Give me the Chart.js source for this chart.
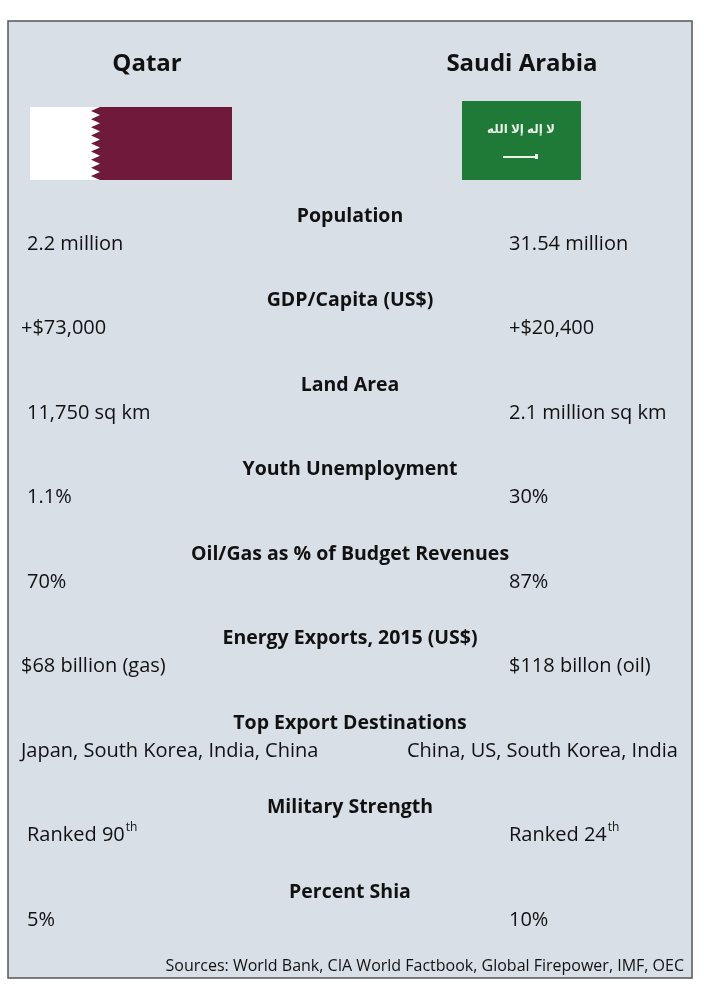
<!DOCTYPE html>
<html><head><meta charset="utf-8">
<script src="https://cdn.jsdelivr.net/npm/chart.js@4"></script>
<style>html,body{margin:0;padding:0;background:#fff}#wrap{width:704px;height:1000px}</style>
</head><body><div id="wrap"><canvas id="c"></canvas></div>
<script>
const countries = ["Qatar", "Saudi Arabia"];
const metrics = ["Population", "GDP/Capita (US$)", "Land Area", "Youth Unemployment",
  "Oil/Gas as % of Budget Revenues", "Energy Exports, 2015 (US$)", "Top Export Destinations",
  "Military Strength", "Percent Shia"];
const qatarValues = ["2.2 million", "+$73,000", "11,750 sq km", "1.1%", "70%", "$68 billion (gas)",
  "Japan, South Korea, India, China", "Ranked 90", "5%"];
const saudiValues = ["31.54 million", "+$20,400", "2.1 million sq km", "30%", "87%", "$118 billon (oil)",
  "China, US, South Korea, India", "Ranked 24", "10%"];
const qatarSup = ["", "", "", "", "", "", "", "th", ""];
const saudiSup = ["", "", "", "", "", "", "", "th", ""];
const sources = "Sources: World Bank, CIA World Factbook, Global Firepower, IMF, OEC";

const FONT = "'Open Sans', 'DejaVu Sans', sans-serif";

const infographic = {
  id: "infographic",
  beforeDatasetsDraw(chart) {
    const { ctx, scales: { x, y } } = chart;
    const px = v => x.getPixelForValue(v), py = v => y.getPixelForValue(v);
    ctx.save();
    // panel
    ctx.fillStyle = "#d9dfe7";
    ctx.fillRect(px(8), py(21), px(692) - px(8), py(978) - py(21));
    ctx.strokeStyle = "#555";
    ctx.lineWidth = 1.5;
    ctx.strokeRect(px(8), py(21), px(692) - px(8), py(978) - py(21));

    ctx.fillStyle = "#111";
    ctx.textBaseline = "middle";
    ctx.textAlign = "center";
    ctx.font = "bold 24px " + FONT;
    ctx.fillText(countries[0], px(147), py(64));
    ctx.fillText(countries[1], px(522), py(64));

    // Qatar flag
    ctx.fillStyle = "#fff";
    ctx.fillRect(px(30), py(107), px(232) - px(30), py(180) - py(107));
    ctx.fillStyle = "#6f1a3a";
    ctx.beginPath();
    ctx.moveTo(px(232), py(107));
    ctx.lineTo(px(232), py(180));
    ctx.lineTo(px(100), py(180));
    const n = 9, h = (180 - 107) / n;
    for (let i = n - 1; i >= 0; i--) {
      ctx.lineTo(px(91), py(107 + i * h + h / 2));
      ctx.lineTo(px(100), py(107 + i * h));
    }
    ctx.closePath();
    ctx.fill();

    // Saudi flag
    ctx.fillStyle = "#1e7a36";
    ctx.fillRect(px(462), py(101), px(581) - px(462), py(180) - py(101));
    ctx.fillStyle = "#e8f2e8";
    ctx.font = "bold 12px " + FONT;
    ctx.fillText("لا إله إلا الله", px(521), py(130));
    ctx.fillRect(px(503), py(156), px(537) - px(503), 2);
    ctx.fillRect(px(535), py(154), 3, 5);

    // rows
    metrics.forEach((m, i) => {
      const hy = 216 + i * 84.5, vy = hy + 28;
      ctx.fillStyle = "#111";
      ctx.textAlign = "center";
      ctx.font = "bold 19.5px " + FONT;
      ctx.fillText(m, px(350), py(hy));
      ctx.textAlign = "left";
      const lx = i === 1 || i === 5 || i === 6 ? 21 : 27;
      const rx = i === 6 ? 407 : 509;
      [[qatarValues[i], qatarSup[i], lx], [saudiValues[i], saudiSup[i], rx]].forEach(([t, s, xx]) => {
        ctx.font = "20px " + FONT;
        ctx.fillText(t, px(xx), py(vy));
        if (s) {
          const w = ctx.measureText(t).width;
          ctx.font = "12px " + FONT;
          ctx.fillText(s, px(xx) + w + 1, py(vy - 8));
        }
      });
    });

    ctx.font = "16px " + FONT;
    ctx.textAlign = "right";
    ctx.fillText(sources, px(684), py(966));
    ctx.restore();
  }
};

new Chart(document.getElementById("c"), {
  type: "scatter",
  data: { datasets: [{ data: [], pointRadius: 0 }] },
  options: {
    responsive: true, maintainAspectRatio: false, animation: false,
    layout: { padding: 0 },
    plugins: { legend: { display: false }, tooltip: { enabled: false } },
    scales: {
      x: { type: "linear", min: 0, max: 704, display: false },
      y: { type: "linear", min: 0, max: 1000, reverse: true, display: false }
    }
  },
  plugins: [infographic]
});
</script></body></html>
